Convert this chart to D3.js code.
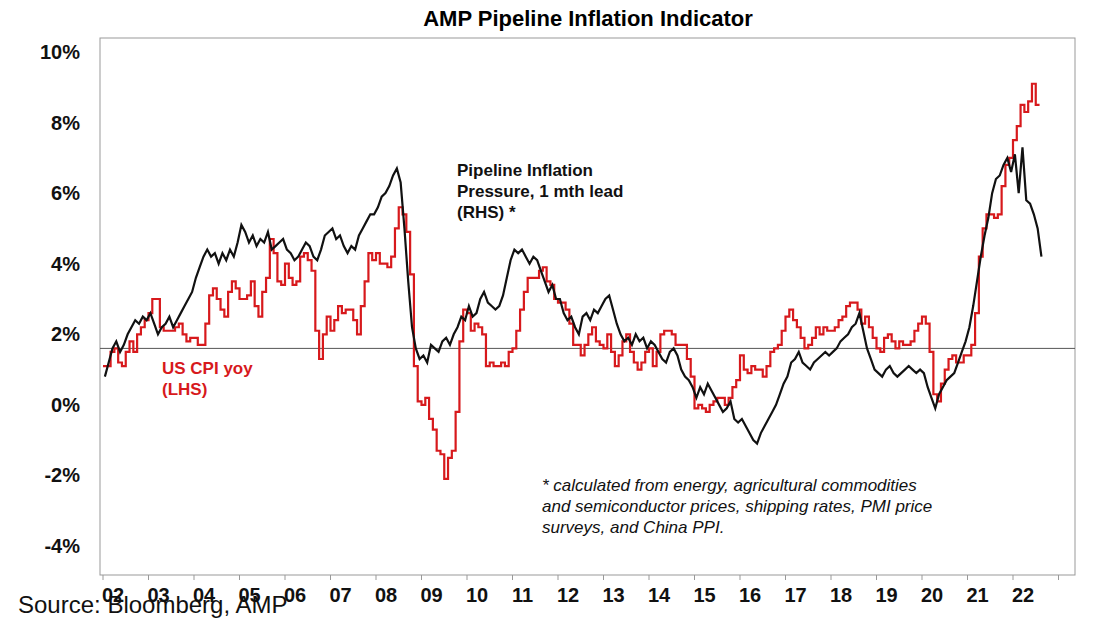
<!DOCTYPE html>
<html><head><meta charset="utf-8">
<script src="https://cdn.jsdelivr.net/npm/d3@7"></script>
<style>body{margin:0;background:#fff;font-family:Arial,"Liberation Sans",sans-serif}</style>
</head><body><div id="vis"></div>
<script>
// US CPI yoy, monthly from Jan 2002
const cpi = [
1.1,1.1,1.5,1.6,1.2,1.1,1.5,1.8,1.5,2.0,2.2,2.4,
2.6,3.0,3.0,2.2,2.1,2.1,2.1,2.2,2.3,2.0,1.8,1.9,
1.9,1.7,1.7,2.3,3.1,3.3,3.0,2.7,2.5,3.2,3.5,3.3,
3.0,3.0,3.1,3.5,2.8,2.5,3.2,3.6,4.7,4.3,3.5,3.4,
4.0,3.6,3.4,3.5,4.2,4.3,4.1,3.8,2.1,1.3,2.0,2.5,
2.1,2.4,2.8,2.6,2.7,2.7,2.4,2.0,2.8,3.5,4.3,4.1,
4.3,4.0,4.0,3.9,4.2,5.0,5.6,5.4,4.9,3.7,1.1,0.1,
0.0,0.2,-0.4,-0.7,-1.3,-1.4,-2.1,-1.5,-1.3,-0.2,1.8,2.7,
2.6,2.1,2.3,2.2,2.0,1.1,1.2,1.1,1.1,1.2,1.1,1.5,
1.6,2.1,2.7,3.2,3.6,3.6,3.6,3.8,3.9,3.5,3.4,3.0,
2.9,2.9,2.7,2.3,1.7,1.7,1.4,1.7,2.0,2.2,1.8,1.7,
1.6,2.0,1.5,1.1,1.4,1.8,2.0,1.5,1.2,1.0,1.2,1.5,
1.6,1.1,1.5,2.0,2.1,2.1,2.0,1.7,1.7,1.7,1.3,0.8,
-0.1,0.0,-0.1,-0.2,0.0,0.1,0.2,0.2,0.0,0.2,0.5,0.7,
1.4,1.0,0.9,1.1,1.0,1.0,0.8,1.1,1.5,1.6,1.7,2.1,
2.5,2.7,2.4,2.2,1.9,1.6,1.7,1.9,2.2,2.0,2.2,2.1,
2.1,2.2,2.4,2.5,2.8,2.9,2.9,2.7,2.3,2.5,2.2,1.9,
1.6,1.5,1.9,2.0,1.8,1.6,1.8,1.7,1.7,1.8,2.1,2.3,
2.5,2.3,1.5,0.3,0.1,0.6,1.0,1.3,1.4,1.2,1.2,1.4,
1.4,1.7,2.6,4.2,5.0,5.4,5.4,5.3,5.4,6.2,6.8,7.0,
7.5,7.9,8.5,8.3,8.6,9.1,8.5,8.5
];
// Pipeline inflation pressure (1 mth lead), monthly from Jan 2002
const pipe = [
0.8,1.2,1.6,1.8,1.5,1.7,2.0,2.2,2.4,2.3,2.5,2.4,
2.6,2.3,2.0,2.2,2.3,2.5,2.2,2.4,2.6,2.8,3.0,3.2,
3.6,3.9,4.2,4.4,4.2,4.3,4.0,4.3,4.1,4.4,4.2,4.6,
5.1,4.9,4.6,4.8,4.5,4.7,4.6,4.9,4.4,4.5,4.6,4.7,
4.4,4.3,4.1,4.2,4.4,4.6,4.5,4.2,4.1,4.4,4.8,4.9,
5.0,4.7,4.8,4.5,4.3,4.5,4.4,4.8,5.0,5.2,5.4,5.4,
5.6,5.9,6.0,6.2,6.5,6.7,6.3,5.0,3.5,2.2,1.6,1.3,
1.4,1.2,1.7,1.6,1.5,1.8,1.9,1.7,2.0,2.2,2.5,2.4,
2.8,2.5,2.6,3.0,3.2,2.9,2.8,2.7,2.8,3.1,3.6,4.1,
4.4,4.3,4.4,4.2,4.0,4.2,4.1,3.8,3.5,3.2,3.4,3.0,
3.0,2.6,2.4,2.5,2.2,2.0,2.5,2.6,2.4,2.7,2.6,2.8,
3.0,3.1,2.7,2.3,2.0,1.8,1.9,1.7,2.0,1.8,1.9,1.6,
1.8,1.7,1.5,1.3,1.2,1.5,1.6,1.4,1.0,0.8,0.7,0.5,
0.2,0.5,0.3,0.6,0.4,0.2,0.0,-0.2,-0.1,0.1,-0.4,-0.5,
-0.4,-0.6,-0.8,-1.0,-1.1,-0.8,-0.6,-0.4,-0.2,0.0,0.3,0.6,
0.8,1.2,1.3,1.5,1.2,1.1,1.0,1.2,1.3,1.4,1.5,1.4,
1.5,1.6,1.8,1.9,2.0,2.2,2.3,2.6,2.1,1.6,1.3,1.0,
0.9,0.8,1.0,1.1,0.9,0.8,0.9,1.0,1.1,1.0,0.9,1.0,
0.9,0.5,0.2,-0.1,0.3,0.5,0.7,0.8,0.9,1.2,1.5,1.8,
2.2,2.8,3.5,4.2,4.8,5.3,6.0,6.4,6.5,6.8,7.0,6.6,
7.1,6.0,7.3,5.8,5.7,5.4,5.0,4.2
];
const years = d3.range(2002, 2023);
const yTicks = [-4, -2, 0, 2, 4, 6, 8, 10];
const refLine = 1.6;

const W = 1093, H = 628;
const plotL = 103, plotR = 1075, plotT = 38, plotB = 575;
const svg = d3.select('#vis').append('svg').attr('width', W).attr('height', H);

const x = d3.scaleLinear().domain([2002, 2002 + (plotR - plotL) / 45.5]).range([plotL, plotR]);
const y = d3.scaleLinear().domain([-4, 10]).range([546, 52]);

// frame
svg.append('rect').attr('x', 100).attr('y', plotT).attr('width', plotR - 100).attr('height', plotB - plotT)
    .attr('fill', 'none').attr('stroke', '#999').attr('stroke-width', 1);

svg.append('line').attr('x1', 100).attr('x2', plotR).attr('y1', y(refLine)).attr('y2', y(refLine))
    .attr('stroke', '#555').attr('stroke-width', 1);

// y axis labels
svg.selectAll('.yl').data(yTicks).join('text')
    .attr('x', 80).attr('y', d => y(d) + 7).attr('text-anchor', 'end')
    .attr('font-size', 20).attr('font-weight', 'bold').attr('fill', '#111')
    .text(d => d + '%');

// x axis labels and ticks
svg.selectAll('.xt').data(years.concat([2023])).join('line')
    .attr('x1', d => x(d)).attr('x2', d => x(d)).attr('y1', plotB).attr('y2', plotB + 5)
    .attr('stroke', '#999');
svg.selectAll('.xl').data(years).join('text')
    .attr('x', d => x(d) + 10).attr('y', plotB + 27).attr('text-anchor', 'middle')
    .attr('font-size', 20).attr('font-weight', 'bold').attr('fill', '#111')
    .text(d => String(d % 100).padStart(2, '0'));

const cpiLine = d3.line().x((d, i) => x(2002 + i / 12)).y(d => y(d)).curve(d3.curveStepAfter);
svg.append('path').datum(cpi).attr('d', cpiLine)
    .attr('fill', 'none').attr('stroke', '#d7191c').attr('stroke-width', 2.2);

const pipeLine = d3.line().x((d, i) => x(2002 + (i + 0.5) / 12)).y(d => y(d)).curve(d3.curveLinear);
svg.append('path').datum(pipe).attr('d', pipeLine)
    .attr('fill', 'none').attr('stroke', '#111').attr('stroke-width', 2.2);

// title
svg.append('text').attr('x', 588).attr('y', 26).attr('text-anchor', 'middle')
    .attr('font-size', 22).attr('font-weight', 'bold').text('AMP Pipeline Inflation Indicator');

const lbl = (lines, x0, y0, color, opts = {}) => {
    const t = svg.append('text').attr('x', x0).attr('y', y0).attr('fill', color)
        .attr('font-size', opts.size || 17).attr('font-weight', opts.weight || 'bold')
        .attr('font-style', opts.style || 'normal');
    lines.forEach((l, i) => t.append('tspan').attr('x', x0).attr('dy', i ? (opts.lh || 21) : 0).text(l));
};
lbl(['Pipeline Inflation', 'Pressure, 1 mth lead', '(RHS) *'], 457, 176, '#111');
lbl(['US CPI yoy', '(LHS)'], 162, 374, '#d7191c');
lbl(['* calculated from energy, agricultural commodities', 'and semiconductor prices, shipping rates, PMI price', 'surveys, and China PPI.'],
    542, 491, '#111', {size: 17, weight: 'normal', style: 'italic', lh: 21});

svg.append('text').attr('x', 18).attr('y', 613).attr('font-size', 24).attr('fill', '#111')
    .text('Source: Bloomberg, AMP');
</script></body></html>
